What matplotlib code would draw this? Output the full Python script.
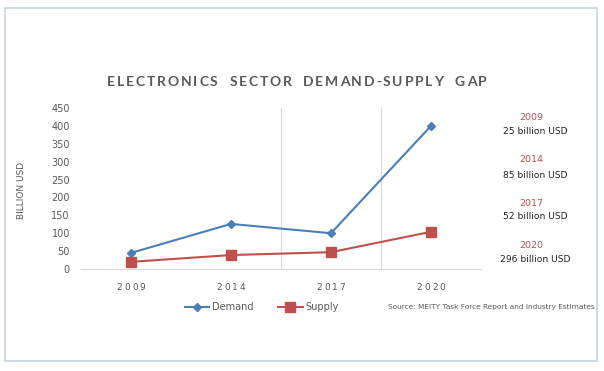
import matplotlib
matplotlib.use("Agg")
import matplotlib.pyplot as plt
from matplotlib.patches import Rectangle
from matplotlib.lines import Line2D

years = ["2009", "2014", "2017", "2020"]
demand = [45, 126, 100, 400]
supply = [20, 39, 47, 104]
gap_labels = ["25 billion USD", "85 billion USD", "52 billion USD", "296 billion USD"]
yticks = [0, 50, 100, 150, 200, 250, 300, 350, 400, 450]

W, H = 604, 371
fig = plt.figure(figsize=(W / 100, H / 100), dpi=100)
fig.patch.set_facecolor("white")
renderer = fig.canvas.get_renderer()

def fx(px):
    return px / W

def fy(py):
    return 1 - py / H

def tracked_text(cx_px, cy_px, s, tracking_px, space_char="n", **kw):
    """Draw text centred at figure pixel (cx, cy) with extra letter spacing."""
    widths = []
    for ch in s:
        t = fig.text(0, 0, space_char if ch == " " else ch, **kw)
        w = t.get_window_extent(renderer).width
        t.remove()
        widths.append(w)
    total = sum(widths) + tracking_px * (len(s) - 1)
    x = cx_px - total / 2
    for ch, w in zip(s, widths):
        if ch != " ":
            fig.text(fx(x), fy(cy_px), ch, ha="left", va="center", **kw)
        x += w + tracking_px

# outer border
fig.patches.append(Rectangle((fx(5), fy(361)), fx(597) - fx(5), fy(8) - fy(361),
                             transform=fig.transFigure, fill=False,
                             edgecolor="#c5d3e8", linewidth=1.2))

ax = fig.add_axes([fx(81), fy(269), fx(481) - fx(81), fy(108) - fy(269)])
x = list(range(len(years)))
blue = "#4a7ebb"
red = "#c0504d"
ax.plot(x, demand, color=blue, linewidth=1.5, marker="D", markersize=4.5, label="Demand", zorder=3)
ax.plot(x, supply, color=red, linewidth=1.5, marker="s", markersize=6.5, label="Supply", zorder=3)

ax.set_xlim(-0.5, 3.5)
ax.set_ylim(0, 450)
ax.set_yticks(yticks)
ax.set_yticklabels([str(v) for v in yticks], fontsize=7, color="#595959")
ax.set_xticks(x)
ax.set_xticklabels([])
ax.tick_params(axis="both", length=0)
ax.tick_params(axis="y", pad=8)
for s in ["top", "right", "left"]:
    ax.spines[s].set_visible(False)
ax.spines["bottom"].set_color("#d9d9d9")
for gx in [1.5, 2.5]:
    ax.axvline(gx, color="#d9d9d9", linewidth=0.8, zorder=1)

# letter-spaced category labels
fig.canvas.draw()
for xi, yr in zip(x, years):
    cx = ax.transData.transform((xi, 0))[0]
    tracked_text(cx, 287, yr, 2.0, fontsize=6.5, color="#595959")

fig.text(fx(21), fy(190), "BILLION USD", rotation=90, fontsize=6.5, color="#595959",
         ha="center", va="center")

tracked_text(297, 82, "ELECTRONICS SECTOR DEMAND-SUPPLY GAP", 1.8,
             fontsize=10, color="#595959", fontweight="bold", family="Lato")

# right annotations
ys_year = [117, 160, 203, 245]
ys_val = [131, 175, 216, 259]
for yr, lbl, y1, y2 in zip(years, gap_labels, ys_year, ys_val):
    fig.text(fx(531), fy(y1), yr, fontsize=6.8, color=red, ha="center", va="center")
    fig.text(fx(535), fy(y2), lbl, fontsize=6.6, color="#222222", ha="center", va="center")

# legend
handles = [Line2D([], [], color=blue, marker="D", markersize=4.5, linewidth=1.5),
           Line2D([], [], color=red, marker="s", markersize=6.5, linewidth=1.5)]
fig.legend(handles, ["Demand", "Supply"], loc="center", bbox_to_anchor=(fx(262), fy(307)),
           ncol=2, frameon=False, fontsize=7, handlelength=2.5, handletextpad=0.3,
           columnspacing=2.5, labelcolor="#595959")

fig.text(fx(388), fy(307), "Source: MEITY Task Force Report and Industry Estimates",
         fontsize=5.35, color="#595959", ha="left", va="center")

fig.savefig("out.png", dpi=100)
